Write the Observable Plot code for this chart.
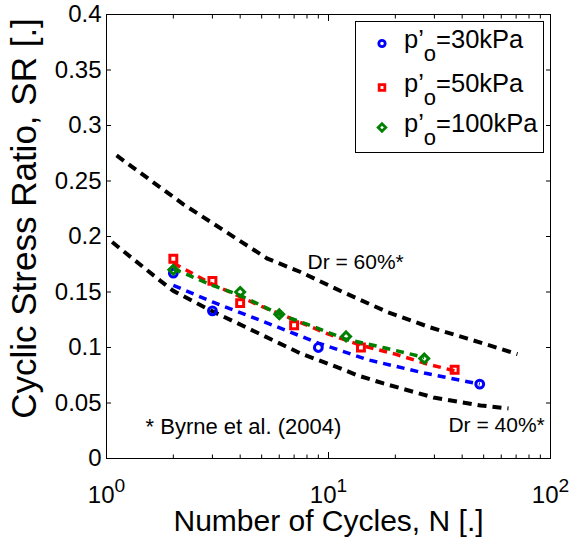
<!DOCTYPE html>
<html><head><meta charset="utf-8">
<script src="https://cdn.jsdelivr.net/npm/d3@7"></script>
<script src="https://cdn.jsdelivr.net/npm/@observablehq/plot@0.6"></script>
<style>body{margin:0;background:#fff}#chart{width:571px;height:537px}</style>
</head><body><div id="chart"></div>
<script>
const FONT = "'Liberation Sans', Arial, Helvetica, sans-serif";

// Byrne et al. (2004) reference curves
const dr60N  = [1.11, 2.22, 5.31, 7.48, 11.6, 18.4, 28.8, 42.3, 71];
const dr60SR = [0.273, 0.229, 0.180, 0.168, 0.150, 0.132, 0.118, 0.108, 0.094];
const dr40N  = [1.06, 1.75, 2.0, 2.94, 7.48, 11.3, 13.5, 17.7, 29.7, 48.4, 64.7];
const dr40SR = [0.195, 0.160, 0.151, 0.1335, 0.0947, 0.0812, 0.0749, 0.0676, 0.055, 0.0478, 0.0451];

// test results
const p30N  = [2, 3, 9, 48];
const p30SR = [0.167, 0.133, 0.100, 0.067];
const p50N  = [2, 3, 4, 7, 14, 37];
const p50SR = [0.180, 0.160, 0.140, 0.120, 0.100, 0.080];
const p100N  = [2, 4, 6, 12, 27];
const p100SR = [0.170, 0.150, 0.130, 0.110, 0.090];

// fitted trend lines
const fit30N  = [2, 3, 5, 9, 15, 27, 48];
const fit30SR = [0.156, 0.141, 0.124, 0.104, 0.089, 0.077, 0.067];
const fit50N  = [2, 3, 5, 7, 10, 14, 20, 28, 37];
const fit50SR = [0.176, 0.157, 0.137, 0.125, 0.112, 0.102, 0.094, 0.085, 0.079];
const fit100N  = [2, 3, 4, 6, 8, 12, 18, 27];
const fit100SR = [0.171, 0.156, 0.147, 0.130, 0.121, 0.1074, 0.0996, 0.091];

const seriesNames = ["p’o=30kPa", "p’o=50kPa", "p’o=100kPa"];
const seriesColors = ["#0000ff", "#ff0000", "#008000"];

const yTicks = [0, 0.05, 0.1, 0.15, 0.2, 0.25, 0.3, 0.35, 0.4];
const yTickLabels = ["0", "0.05", "0.1", "0.15", "0.2", "0.25", "0.3", "0.35", "0.4"];
const xMajor = [1, 10, 100];
const xExp = ["0", "1", "2"];
const xMinor = [2, 3, 4, 5, 6, 7, 8, 9, 20, 30, 40, 50, 60, 70, 80, 90];

const xTitle = "Number of Cycles, N [.]";
const yTitle = "Cyclic Stress Ratio, SR [.]";
const notes = [
  {text: "Dr = 60%*", N: 8.04, SR: 0.171, size: 21},
  {text: "Dr = 40%*", N: 34.7, SR: 0.0235, size: 21},
  {text: "* Byrne et al. (2004)", N: 1.5, SR: 0.0225, size: 22}
];

const rows = (N, SR) => N.map((n, i) => ({N: n, SR: SR[i]}));

const dashBlack = {x: "N", y: "SR", stroke: "black", strokeWidth: 4, strokeDasharray: "9,6", strokeLinecap: "butt", strokeLinejoin: "miter"};
const dashCol = c => ({x: "N", y: "SR", stroke: c, strokeWidth: 3.5, strokeDasharray: "8,6", strokeLinecap: "butt", strokeLinejoin: "miter"});
const dotCol = (c, s, r) => ({x: "N", y: "SR", stroke: c, fill: "none", strokeWidth: 3, symbol: s, r});

const svgEl = Plot.plot({
  width: 571, height: 537,
  marginLeft: 106, marginRight: 21, marginTop: 14, marginBottom: 79,
  x: {type: "log", domain: [1, 100]},
  y: {domain: [0, 0.4]},
  style: {fontFamily: FONT, background: "white", color: "black"},
  marks: [
    Plot.line(rows(dr60N, dr60SR), dashBlack),
    Plot.line(rows(dr40N, dr40SR), dashBlack),
    Plot.line(rows(fit30N, fit30SR), dashCol(seriesColors[0])),
    Plot.dot(rows(p30N, p30SR), dotCol(seriesColors[0], "circle", 3.9)),
    Plot.line(rows(fit50N, fit50SR), dashCol(seriesColors[1])),
    Plot.dot(rows(p50N, p50SR), dotCol(seriesColors[1], "square", 3.9)),
    Plot.line(rows(fit100N, fit100SR), dashCol(seriesColors[2])),
    Plot.dot(rows(p100N, p100SR), dotCol(seriesColors[2], "diamond2", 4)),
    ...notes.map(n => Plot.text([n], {x: "N", y: "SR", text: "text", textAnchor: "start", lineAnchor: "bottom", fontSize: n.size, fill: "black"})),
    Plot.frame({stroke: "black", strokeWidth: 1}),
    // inward ticks
    Plot.axisY({anchor: "left", ticks: yTicks, tickSize: -5, fill: "none", label: null}),
    Plot.axisY({anchor: "right", ticks: yTicks, tickSize: -5, fill: "none", label: null}),
    Plot.axisX({anchor: "bottom", ticks: xMajor, tickSize: -6, fill: "none", label: null}),
    Plot.axisX({anchor: "top", ticks: xMajor, tickSize: -6, fill: "none", label: null}),
    Plot.axisX({anchor: "bottom", ticks: xMinor, tickSize: -3.5, fill: "none", label: null}),
    Plot.axisX({anchor: "top", ticks: xMinor, tickSize: -3.5, fill: "none", label: null}),
    // labels
    Plot.axisY({anchor: "left", ticks: yTicks, tickSize: 0, tickPadding: 5, fontSize: 24,
      tickFormat: d => yTickLabels[yTicks.indexOf(d)], label: null}),
    Plot.axisX({anchor: "bottom", ticks: xMajor, tickSize: 0, tickPadding: 27, fontSize: 24,
      tickFormat: d => "10", label: null}),
    Plot.text([xTitle], {text: d => d, frameAnchor: "bottom", textAnchor: "middle", dy: 72, lineAnchor: "bottom", fontSize: 30, fill: "black"}),
    Plot.text([yTitle], {text: d => d, frameAnchor: "left", textAnchor: "middle", rotate: -90, dx: -71, dy: -18, lineAnchor: "bottom", fontSize: 35, fill: "black"})
  ]
});

// superscript exponents on x tick labels
d3.select(svgEl).selectAll('g[aria-label="x-axis tick label"] text').each(function(d, i) {
  const t = d3.select(this);
  t.text("10");
  t.append("tspan").attr("dy", "-0.55em").attr("font-size", "0.8em").text(xExp[i]);
});

// legend
const svg = d3.select(svgEl);
const lg = svg.append("g").attr("font-family", FONT).attr("text-anchor", "start");
lg.append("rect").attr("x", 355.5).attr("y", 21.5).attr("width", 188).attr("height", 131)
  .attr("fill", "white").attr("stroke", "black").attr("stroke-width", 1);
const legSyms = [d3.symbolCircle, d3.symbolSquare, d3.symbolDiamond2];
const legR = [3.2, 3.2, 3.4];
const rowY = [43.5, 87.5, 127.5];
seriesNames.forEach((name, i) => {
  lg.append("path").attr("transform", `translate(382,${rowY[i]})`)
    .attr("d", d3.symbol(legSyms[i], Math.PI * legR[i] * legR[i])())
    .attr("fill", "none").attr("stroke", seriesColors[i]).attr("stroke-width", 2.8);
  const [pre, rest] = name.split("o=");
  const t = lg.append("text").attr("x", 404).attr("y", rowY[i] + 4.5).attr("font-size", 25.5)
    .attr("fill", "black").attr("text-anchor", "start");
  t.append("tspan").text(pre);
  t.append("tspan").attr("dy", 13).attr("font-size", 22).text("o");
  t.append("tspan").attr("dy", -13).text("=" + rest);
});

document.getElementById("chart").appendChild(svgEl);
</script>
</body></html>
